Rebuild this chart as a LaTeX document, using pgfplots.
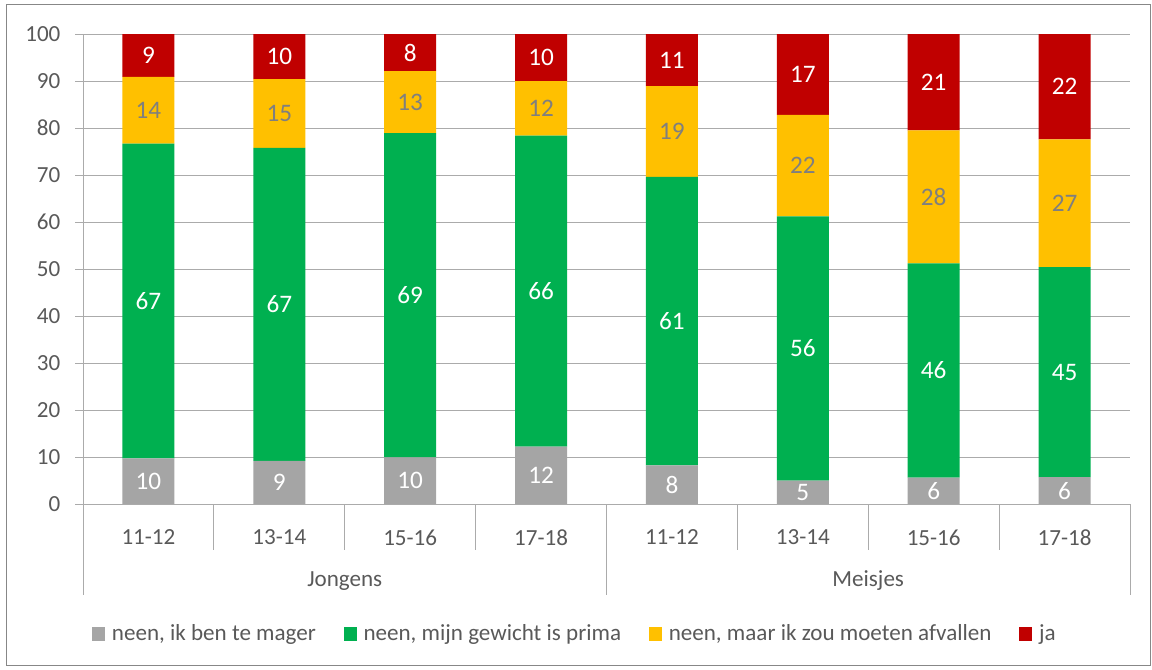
\documentclass[border=0pt]{standalone}
\usepackage{fontspec}
\setmainfont{Carlito}
\usepackage{pgfplots}
\usepackage{pgfplotstable}
\pgfplotsset{compat=1.18}
\definecolor{cgray}{HTML}{A5A5A5}
\definecolor{cgreen}{HTML}{00B050}
\definecolor{cyellow}{HTML}{FFC000}
\definecolor{cred}{HTML}{C00000}
\definecolor{txt}{HTML}{595959}
\definecolor{gridc}{HTML}{ABABAB}
\definecolor{ylab}{HTML}{7F7F7F}
\definecolor{framec}{HTML}{878787}

\pgfplotstableread{
x gray green yellow red lgray lgreen lyellow lred
0 9.7 67.0 14.2 9.1 10 67 14 9
1 9.2 66.6 14.6 9.6 9 67 15 10
2 9.9 69.0 13.2 7.9 10 69 13 8
3 12.2 66.2 11.6 10.0 12 66 12 10
4 8.2 61.4 19.3 11.1 8 61 19 11
5 5.0 56.2 21.6 17.2 5 56 22 17
6 5.6 45.6 28.3 20.5 6 46 28 21
7 5.7 44.7 27.2 22.4 6 45 27 22
}\data

\newcommand{\tfont}{\fontsize{17.3}{20.8}\selectfont}
\newcommand{\lfont}{\fontsize{18.9}{22.7}\selectfont}

\pgfplotsset{base/.style={
  at={(62.25pt,-378pt)}, anchor=south west, scale only axis,
  width=785.25pt, height=352.5pt,
  xmin=-0.5, xmax=7.5, ymin=0, ymax=100, clip=false,
}}

\begin{document}
\tfont
\begin{tikzpicture}[font=\tfont]
\path (0pt,0pt) rectangle (864pt,-501.75pt);
\draw[framec, line width=0.75pt] (4.5pt,-3pt) rectangle (862.5pt,-498.75pt);
\begin{axis}[base, ybar stacked, bar width=39pt,
  axis x line*=bottom, axis y line*=left,
  axis line style={gridc, line width=0.75pt},
  ytick={0,10,...,100}, ymajorgrids, grid style={gridc, line width=0.75pt},
  xtick={0,...,7},
  xticklabels={11-12,13-14,15-16,17-18,11-12,13-14,15-16,17-18},
  x tick style={draw=none}, y tick style={gridc, line width=0.75pt},
  major tick length=6pt, tick align=outside,
  /pgf/number format/assume math mode=true,
  ticklabel style={text=txt, font=\tfont},
  xticklabel style={anchor=center, yshift=-19pt},
  yticklabel style={xshift=-5pt},
  legend style={at={(0.0086,-0.2766)}, anchor=west, draw=none, fill=none,
    legend columns=4, text=txt, font=\tfont, inner sep=0pt,
    /tikz/every odd column/.append style={column sep=3pt},
    /tikz/every even column/.append style={column sep=19pt}},
  legend image code/.code={\fill[#1] (0pt,-4.9pt) rectangle (9.75pt,4.9pt);},
]
\addplot[fill=cgray, draw=none] table[x=x, y=gray] {\data};
\addplot[fill=cgreen, draw=none] table[x=x, y=green] {\data};
\addplot[fill=cyellow, draw=none] table[x=x, y=yellow] {\data};
\addplot[fill=cred, draw=none] table[x=x, y=red] {\data};
\legend{neen{,} ik ben te mager, neen{,} mijn gewicht is prima, neen{,} maar ik zou moeten afvallen, ja}
\pgfplotsinvokeforeach{0.5,1.5,2.5,4.5,5.5,6.5}{
  \draw[gridc, line width=0.75pt] (axis cs:#1,0) -- ++(0pt,-34.5pt);
}
\pgfplotsinvokeforeach{-0.5,3.5,7.5}{
  \draw[gridc, line width=0.75pt] (axis cs:#1,0) -- ++(0pt,-68.25pt);
}
\node[text=txt] at (axis cs:1.5,0) [yshift=-57.75pt] {Jongens};
\node[text=txt] at (axis cs:5.5,0) [yshift=-57.75pt] {Meisjes};
\end{axis}
\begin{axis}[base, hide axis]
\addplot[draw=none, mark=none, nodes near coords, point meta=explicit symbolic,
  every node near coord/.append style={anchor=center, text=white, font=\lfont}]
  table[x=x, y expr=\thisrow{gray}/2, meta=lgray] {\data};
\addplot[draw=none, mark=none, nodes near coords, point meta=explicit symbolic,
  every node near coord/.append style={anchor=center, text=white, font=\lfont}]
  table[x=x, y expr=\thisrow{gray}+\thisrow{green}/2, meta=lgreen] {\data};
\addplot[draw=none, mark=none, nodes near coords, point meta=explicit symbolic,
  every node near coord/.append style={anchor=center, text=ylab, font=\lfont}]
  table[x=x, y expr=\thisrow{gray}+\thisrow{green}+\thisrow{yellow}/2, meta=lyellow] {\data};
\addplot[draw=none, mark=none, nodes near coords, point meta=explicit symbolic,
  every node near coord/.append style={anchor=center, text=white, font=\lfont}]
  table[x=x, y expr=\thisrow{gray}+\thisrow{green}+\thisrow{yellow}+\thisrow{red}/2, meta=lred] {\data};
\end{axis}
\end{tikzpicture}
\end{document}
